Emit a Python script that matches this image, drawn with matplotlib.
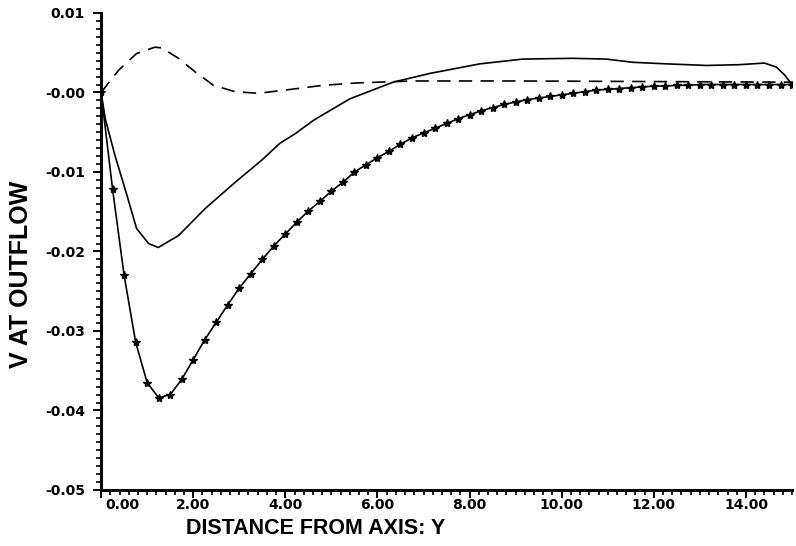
import numpy as np
import matplotlib
matplotlib.use("Agg")
import matplotlib.pyplot as plt
from matplotlib.ticker import MultipleLocator, FormatStrFormatter, FuncFormatter

plt.rcParams['axes.unicode_minus'] = False

# outflow V profile with markers (one every 0.25 in Y)
y_star = np.arange(0, 15.01, 0.25)
v_star = [0.0, -0.0122, -0.0230, -0.0314, -0.0365, -0.0384, -0.0380, -0.0361,
          -0.0336, -0.0311, -0.0289, -0.0267, -0.0246, -0.0228, -0.0210, -0.0193,
          -0.0178, -0.0163, -0.0149, -0.0137, -0.0124, -0.0113, -0.0100, -0.0091,
          -0.0082, -0.0074, -0.0065, -0.0057, -0.0051, -0.0045, -0.0039, -0.0033,
          -0.0028, -0.0023, -0.0019, -0.0015, -0.0012, -0.0009, -0.0007, -0.0005,
          -0.0003, -0.0001, 0.0001, 0.0003, 0.0004, 0.0005, 0.0006, 0.0007,
          0.0008, 0.0008, 0.0009, 0.0009, 0.0010, 0.0010, 0.0010, 0.0010,
          0.0010, 0.0010, 0.0010, 0.0010, 0.0010]

# solid profile
y_solid = [0.0, 0.09, 0.30, 0.56, 0.77, 1.03, 1.24, 1.68, 2.26, 2.91, 3.49, 3.88,
           4.21, 4.61, 5.40, 6.34, 7.14, 8.22, 9.15, 10.24, 10.97, 11.54, 12.28,
           13.15, 13.86, 14.40, 14.66, 14.84, 15.00]
v_solid = [0.0, -0.0033, -0.0079, -0.0129, -0.0171, -0.0190, -0.0195, -0.0180,
           -0.0146, -0.0113, -0.0085, -0.0064, -0.0052, -0.0035, -0.0008, 0.0013,
           0.0024, 0.0036, 0.0042, 0.0043, 0.0042, 0.0038, 0.0036, 0.0034, 0.0035,
           0.0037, 0.0032, 0.0022, 0.0010]

# dashed profile
y_dash = [0.0, 0.38, 0.77, 1.17, 1.32, 1.68, 2.04, 2.44, 2.91, 3.41, 3.99, 4.82,
          5.55, 6.77, 8.94, 11.0, 15.0]
v_dash = [0.0, 0.0028, 0.0049, 0.0057, 0.0056, 0.0043, 0.0026, 0.0009, 0.0001,
          -0.0001, 0.0003, 0.0009, 0.0012, 0.00145, 0.00145, 0.0014, 0.0013]

fig = plt.figure(figsize=(7.96, 5.46), dpi=100)
ax = fig.add_axes([0.127, 0.1026, 0.868, 0.8736])

ax.plot(y_solid, v_solid, color='black', lw=1.2)
ax.plot(y_dash, v_dash, color='black', lw=1.2, dashes=(8, 5))
ax.plot(y_star, v_star, color='black', lw=1.2, marker='*', markersize=6)

ax.set_xlim(0, 15)
ax.set_ylim(-0.05, 0.01)

for side in ('top', 'right'):
    ax.spines[side].set_visible(False)
for side in ('left', 'bottom'):
    ax.spines[side].set_linewidth(2.2)

ax.xaxis.set_major_locator(MultipleLocator(2))
ax.xaxis.set_minor_locator(MultipleLocator(0.2))
ax.yaxis.set_major_locator(MultipleLocator(0.01))
ax.yaxis.set_minor_locator(MultipleLocator(0.001))
# the 0.00 label on x is drawn separately, shifted off the vertical axis
ax.xaxis.set_major_formatter(FuncFormatter(lambda v, p: '' if abs(v) < 1e-9 else f'{v:.2f}'))
ax.yaxis.set_major_formatter(FormatStrFormatter('%.2f'))

tick_font = dict(family='DejaVu Sans', weight='bold', size=10)
ax.tick_params(which='major', direction='out', length=5.5, width=1.4, labelsize=10)
ax.tick_params(which='minor', direction='out', length=3.5, width=1.2)
ax.tick_params(axis='y', which='major', pad=6)
ax.tick_params(axis='x', which='major', pad=0.5)
for lab in ax.get_xticklabels() + ax.get_yticklabels():
    lab.set_fontfamily(tick_font['family'])
    lab.set_fontweight(tick_font['weight'])

ax.annotate('0.00', xy=(0, 0), xycoords=('data', 'axes fraction'),
            xytext=(3, -6), textcoords='offset points', ha='left', va='top',
            **{'fontfamily': tick_font['family'], 'fontweight': 'bold', 'fontsize': 10})

ax.set_xlabel('DISTANCE FROM AXIS: Y', fontfamily='Liberation Sans',
              fontweight='bold', fontsize=15.5)
ax.set_ylabel('V AT OUTFLOW', fontfamily='Liberation Sans',
              fontweight='bold', fontsize=18)
ax.xaxis.set_label_coords(0.31, -0.059)
ax.yaxis.set_label_coords(-0.099, 0.451)

fig.savefig('out.png', dpi=100, facecolor='white')
